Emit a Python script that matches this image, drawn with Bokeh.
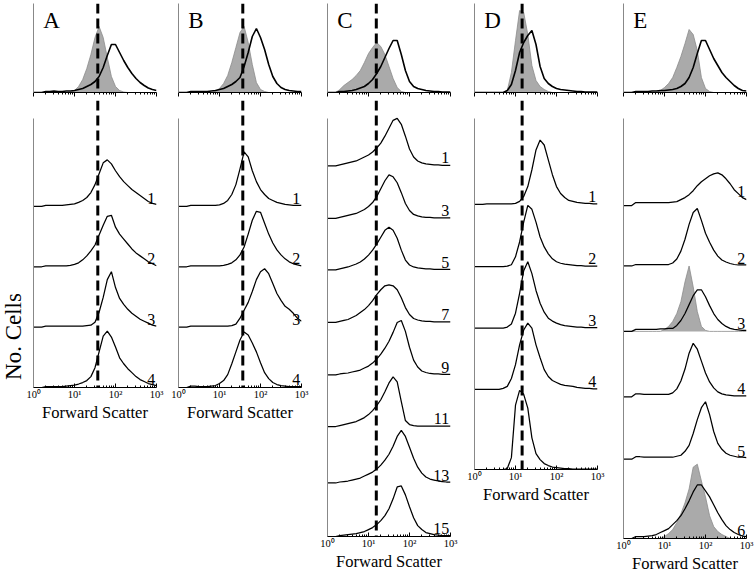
import math
from bokeh.plotting import figure
from bokeh.layouts import row, column
from bokeh.models import Range1d, FixedTicker, Span
from bokeh.embed import file_html
from bokeh.resources import INLINE
from bokeh.core.properties import value

# ---------------- data ----------------
LOG_FSC = [0.0, 0.1, 0.2, 0.3, 0.4, 0.5, 0.6, 0.7, 0.8, 0.9, 1.0, 1.1, 1.2, 1.3, 1.4, 1.5,
           1.6, 1.7, 1.8, 1.9, 2.0, 2.1, 2.2, 2.3, 2.4, 2.5, 2.6, 2.7, 2.8, 2.9, 3.0]
FSC = [10 ** v for v in LOG_FSC]

TICK_LABELS = {1: "10\u2070", 10: "10\u00b9", 100: "10\u00b2", 1000: "10\u00b3"}
X_TITLE = "Forward Scatter"
Y_TITLE = "No. Cells"

# column A
A_TOP_GRAY = [0,0,0,0,0,0,0,0,0,0.5,2,6,13,24,38,55,66,55,35,16,6,2,0.5,0,0,0,0,0,0,0,0]
A_TOP_BLACK = [0,0,0,1,1,1.5,1,1,1.5,1.5,2,3,4,6,8,11,16,25,37,48,48,40,32,25,19,14,10,7,4.5,3,2]
A1 = [0,0,0,1,1,1,1,1,1.5,2,2.5,4,6,9,14,22,33,44,47,43,36,30,25,21,17,14,11,8,5,3,2]
A2 = [0,0,0,1,1,1,1,1,1,1.5,2.5,4,7,11,16,22,32,42,51,52,40,33,28,23,18,14,11,8,5,3,1]
A3 = [0,0,0,1,1,1,1,1,1,1,1,1,1,1.5,2,5,15,30,48,56,40,29,23,18,14,11,8,6,4,2,1]
A4 = [0,0,0,1,1,1,1,1,1.5,2,2.5,3.5,5,7,11,20,36,52,57,51,41,30,24,19,15,11,8,6,4,3,2]
A_LABELS = ["1", "2", "3", "4"]
A_CUTOFF = 37

# column B
B_TOP_GRAY = [0,0,0,0,0,0,0,0,0,1,4,9,17,30,45,60,66,50,28,10,3,1,0,0,0,0,0,0,0,0,0]
B_TOP_BLACK = [0,0,0,1,1,1,1,1,1.5,2,3,4,6,8,11,15,26,40,56,64,55,43,28,16,9,5,3,2,1.5,1,1]
B1 = [0,0,0,1,1,1,1,1,1,1,1.5,3,6,12,22,38,55,50,36,25,17,12,8,6,4,3,2,1.5,1,1,1]
B2 = [0,0,0,1,1,1,1,1,1,1,1,1.5,2.5,4,7,12,20,33,47,56,55,44,33,24,17,12,8,5,3,2,1]
B3 = [0,0,0,1,1,1,1,1,1,1,1,1,1,1.5,3,9,17,25,36,48,56,59,54,44,34,27,21,18,14,9,6]
B4 = [0,0,0,1.5,1.5,1,1,1,1.5,2,4,7,13,24,36,48,56,53,45,36,25,15,9,5,3,2,1.5,1,1,1,1]
B_LABELS = ["1", "2", "3", "4"]
B_CUTOFF = 37

# column C
C_TOP_GRAY = [0,0,0,3,7,10,13,17,22,30,39,45,50,46,38,26,14,5,1,0,0,0,0,0,0,0,0,0,0,0,0]
C_TOP_BLACK = [0,0,0,1,1,1.5,2,3,4.5,6,9,13,19,26,35,44,52,52,38,22,11,6,4,3,2,1.5,1,1,0.5,0.5,0.5]
C1 = [0,0,0,1,2,3,4,5,7,9,11,14,18,23,30,38,46,48,42,30,17,9,5,3,2,1.5,1,1,0.5,0.5,0.5]
C3 = [0,0,0,1,2,3,4,5,7,9,12,16,22,30,38,44,42,36,26,15,8,4,2.5,1.5,1,1,0.5,0.5,0.5,0.5,0.5]
C5 = [0,0,0,1,2,3,4.5,6,8,11,15,20,26,33,40,43,40,32,20,10,5,3,2,1.5,1,1,0.5,0.5,0.5,0.5,0.5]
C7 = [0,0,0,1,2,3,5,7,10,13,17,22,28,33,37,38,37,33,25,15,8,4,2.5,1.5,1,1,0.5,0.5,0.5,0.5,0.5]
C9 = [0,0,0,1,1.5,2,3,4,5,7,9,12,16,21,27,34,43,53,55,44,28,15,8,4,2.5,1.5,1,1,0.5,0.5,0.5]
C11 = [0,0,0,1,2,3,4,5,7,9,12,16,21,27,35,44,50,45,25,6,2,1,0.5,0.5,0.5,0.5,0.5,0.5,0.5,0.5,0.5]
C13 = [0,0,0,1,1.5,2,3,4,5,7,9,11,14,18,23,29,37,47,53,47,36,25,16,10,6,4,3,2,1.5,1,1]
C15 = [0,0,0,1,1.5,2,2.5,3,4,5,7,9,12,16,21,28,38,50,51,42,30,19,11,7,4,3,2,1.5,1,1,1]
C_LABELS = ["1", "3", "5", "7", "9", "11", "13", "15"]
C_CUTOFF = 15.5

# column D
D_TOP_GRAY = [0,0,0,0,0,0,0,0,2,20,52,82,80,58,27,12,6,3,1,0,0,0,0,0,0,0,0,0,0,0,0]
D_TOP_BLACK = [0,0,0,0,0,0,0,0,2,8,22,40,50,57,62,48,26,14,9,6,4,3,2.5,2,1.5,1,1,0.5,0.5,0.5,0.5]
D1 = [0,0,0,0.5,0.5,0.5,0.5,0.5,0.5,0.5,1,3,8,18,35,55,65,60,45,30,18,11,7,4,3,2,1.5,1,1,0.5,0.5]
D2 = [0,0,0,0,0,0,0,0,0.5,2,10,25,45,62,58,45,30,20,13,8,5,3.5,2.5,2,1.5,1,1,0.5,0.5,0.5,0.5]
D3 = [0,0,0,0,0,0,0,0,1,4,15,35,58,67,55,38,25,16,10,7,5,3.5,2.5,2,1.5,1,1,0.5,0.5,0.5,0.5]
D4 = [0,0,0,0,0,0,0,1,3,11,25,45,60,67,62,45,32,20,13,9,7,5,4,3.5,3,2,1.5,1,1,0.5,0.5]
D5 = [0,0,0,0,0,0,0,0,1,12,65,80,76,62,32,16,10,6,4,2.5,2,1.5,1,1,0.5,0.5,0.5,0.5,0.5,0.5,0.5]
D_LABELS = ["1", "2", "3", "4", ""]
D_CUTOFF = 14.5

# column E
E_TOP_GRAY = [0,0,0,0,0,0,0,0,0,2,5,9,15,25,36,49,63,58,42,15,4,1,0,0,0,0,0,0,0,0,0]
E_TOP_BLACK = [0,0,0,1,1,1,1,1.5,1.5,2,2,2.5,3,4,6,9,15,25,39,52,52,43,34,27,20,15,11,7,4,2,1.5]
E1 = [0,0,0,3,3,3,3,3,3,3,3,3,3.5,4,6,8,11,15,20,24,27,30,32,33,31,27,22,16,12,8,6]
E2 = [0,0,0,1.5,1.5,1.5,1.5,1.5,1.5,1.5,1.5,1.5,3,7,15,27,42,54,58,46,33,24,16,10,6,4,2.5,1.5,1,1,1]
E3 = [0,0,0,2,2,2,2,2,2,2.5,2.5,3,3,6,11,18,27,36,42,42,35,26,18,12,8,5,3,2,1.5,1,1]
E3_GRAY = [0,0,0,0,0,0,0,0,0,0,2,5,10,18,30,50,66,45,20,5,1,0,0,0,0,0,0,0,0,0,0]
E4 = [0,0,0,3,3,2.5,2.5,2.5,2.5,2.5,2.5,2.5,4,8,16,28,44,54,48,36,24,15,9,5,3,2,1.5,1,1,1,1]
E5 = [0,0,0,2.5,2.5,2,2,2,2,2,2,2,2,3,4,8,14,26,40,52,58,45,28,16,10,6,4,3,2,2,1.5]
E6 = [0,0,0,2,2,2,2.5,3,4,6,8,10,14,18,23,30,38,47,54,54,48,42,34,26,19,13,9,6,4,2.5,2]
E6_GRAY = [0,0,0,0,0,0,0,0,0,0,2,5,9,16,25,36,50,72,75,58,42,23,12,7,4,2,0,0,0,0,0]
E_LABELS = ["1", "2", "3", "4", "5", "6"]

# ---------------- layout (pixel units of the reference) ----------------
SY_B = 0.99
FRAME_W = 123
TOP_REF = 89            # top panel height
BOTTOM_FRAME_TOP = 100  # y where lower frames start
AXIS_LINE_TOP = 118     # y where lower y-axis lines start

A_BASES = [207, 268, 329, 390]
B_BASES = [207, 268, 329, 390]
C_BASES = [166, 219, 271, 324, 377, 429, 486, 540]
D_BASES = [205, 268, 330, 392, 473]
E_BASES = [206, 267, 333, 399, 462, 542]
# how far each row number sits above its baseline
A_LIFT = [8, 8, 8, 8]
B_LIFT = [8, 8, 8, 8]
C_LIFT = [8, 8, 8, 8, 8, 8, 8, 8]
D_LIFT = [8, 8, 8, 8, 8]
E_LIFT = [14, 8, 8, 8, 8, 8]

SERIF = "Liberation Serif"
MINOR = [m * 10 ** k for k in range(3) for m in range(2, 10)]


def clean(p):
    p.xgrid.visible = False
    p.ygrid.visible = False
    p.outline_line_color = None
    p.background_fill_color = "white"
    p.border_fill_color = "white"


def plain_yaxis(p, bounds=None):
    ay = p.yaxis[0]
    ay.ticker = FixedTicker(ticks=[], minor_ticks=[])
    ay.major_tick_line_color = None
    ay.minor_tick_line_color = None
    ay.axis_line_color = "#888888"
    if bounds is not None:
        ay.bounds = bounds


def make_top(letter, gray, black, cutoff, left, right):
    p = figure(x_axis_type="log", x_range=Range1d(1, 1000), y_range=Range1d(0, TOP_REF),
               frame_width=FRAME_W, frame_height=TOP_REF,
               min_border_left=left, min_border_right=right, min_border_top=3,
               min_border_bottom=8, output_backend="svg", toolbar_location=None)
    clean(p)
    ax = p.xaxis[0]
    ax.ticker = FixedTicker(ticks=[1, 10, 100, 1000], minor_ticks=MINOR)
    ax.major_label_text_font_size = "1px"
    ax.major_label_text_alpha = 0
    ax.major_label_standoff = 0
    ax.major_tick_in = 0
    ax.major_tick_out = 4
    ax.minor_tick_in = 0
    ax.minor_tick_out = 2
    ax.axis_line_color = "black"
    plain_yaxis(p)
    p.varea(x=FSC, y1=[0] * len(FSC), y2=gray, fill_color="#aaaaaa")
    p.line(FSC, gray, line_color="#8c8c8c", line_width=0.8)
    p.line(FSC, black, line_color="black", line_width=1.6)
    if cutoff is not None:
        p.add_layout(Span(location=cutoff, dimension="height", line_color="black",
                          line_width=3, line_dash="10 5"))
    p.text(x=[10 ** 0.24], y=[92 - 20], text=[letter], text_font=value(SERIF),
           text_font_size="23px", text_align="left", text_baseline="alphabetic",
           text_color="black")
    return p


def make_bottom(curves, bases, labels, lifts, cutoff, left, right, grays=None):
    axis_y = bases[-1]
    top = axis_y - BOTTOM_FRAME_TOP
    p = figure(x_axis_type="log", x_range=Range1d(1, 1000), y_range=Range1d(0, top),
               frame_width=FRAME_W, frame_height=round(top * SY_B),
               min_border_left=left, min_border_right=right, min_border_top=0,
               min_border_bottom=0, output_backend="svg", toolbar_location=None)
    clean(p)
    ax = p.xaxis[0]
    ax.ticker = FixedTicker(ticks=[1, 10, 100, 1000], minor_ticks=MINOR)
    ax.major_label_overrides = TICK_LABELS
    ax.major_label_text_font = SERIF
    ax.major_label_text_font_size = "10.5px"
    ax.major_label_text_color = "black"
    ax.major_label_standoff = 1
    ax.major_tick_in = 4
    ax.major_tick_out = 0
    ax.minor_tick_in = 2
    ax.minor_tick_out = 0
    ax.axis_line_color = "black"
    ax.axis_label = X_TITLE
    ax.axis_label_text_font = SERIF
    ax.axis_label_text_font_size = "16.5px"
    ax.axis_label_text_font_style = "normal"
    ax.axis_label_text_color = "black"
    ax.axis_label_standoff = 0
    plain_yaxis(p, bounds=(0, axis_y - AXIS_LINE_TOP))
    for i, (curve, base) in enumerate(zip(curves, bases)):
        off = axis_y - base
        if grays is not None and grays[i] is not None:
            g = [off + v for v in grays[i]]
            p.varea(x=FSC, y1=[off] * len(FSC), y2=g, fill_color="#aaaaaa")
            p.line(FSC, g, line_color="#8c8c8c", line_width=0.8)
        p.line(FSC, [off + v for v in curve], line_color="black", line_width=1.25)
    lab_y = [axis_y - b + l for b, t, l in zip(bases, labels, lifts) if t]
    lab_t = [t for t in labels if t]
    p.text(x=[10 ** 2.97] * len(lab_t), y=lab_y, text=lab_t, text_font=value(SERIF),
           text_font_size="16px", text_align="right", text_baseline="alphabetic",
           text_color="black")
    if cutoff is not None:
        p.add_layout(Span(location=cutoff, dimension="height", line_color="black",
                          line_width=3, line_dash="10 5"))
    return p


# narrow strip holding the rotated y title
LABEL_W = 26
LABEL_H = 420
ylab = figure(x_range=Range1d(0, LABEL_W), y_range=Range1d(0, LABEL_H),
              frame_width=LABEL_W, frame_height=LABEL_H,
              min_border_left=0, min_border_right=0, min_border_top=0, min_border_bottom=0,
              output_backend="svg", toolbar_location=None)
clean(ylab)
ylab.axis.visible = False
ylab.text(x=[13], y=[LABEL_H - 336], text=[Y_TITLE], angle=math.pi / 2, text_font=value(SERIF),
          text_font_size="23px", text_align="center", text_baseline="middle",
          text_color="black")

topA = make_top("A", A_TOP_GRAY, A_TOP_BLACK, A_CUTOFF, 7, 10)
botA = make_bottom([A1, A2, A3, A4], A_BASES, A_LABELS, A_LIFT, A_CUTOFF, 7, 10)
topB = make_top("B", B_TOP_GRAY, B_TOP_BLACK, B_CUTOFF, 12, 13)
botB = make_bottom([B1, B2, B3, B4], B_BASES, B_LABELS, B_LIFT, B_CUTOFF, 12, 13)
topC = make_top("C", C_TOP_GRAY, C_TOP_BLACK, C_CUTOFF, 13, 11)
botC = make_bottom([C1, C3, C5, C7, C9, C11, C13, C15], C_BASES, C_LABELS, C_LIFT,
                   C_CUTOFF, 13, 11)
topD = make_top("D", D_TOP_GRAY, D_TOP_BLACK, D_CUTOFF, 13, 13)
botD = make_bottom([D1, D2, D3, D4, D5], D_BASES, D_LABELS, D_LIFT, D_CUTOFF, 13, 13)
topE = make_top("E", E_TOP_GRAY, E_TOP_BLACK, None, 13, 8)
botE = make_bottom([E1, E2, E3, E4, E5, E6], E_BASES, E_LABELS, E_LIFT, None, 13, 8,
                   grays=[None, None, E3_GRAY, None, None, E6_GRAY])

layout = row(ylab,
             column(topA, botA, spacing=0), column(topB, botB, spacing=0),
             column(topC, botC, spacing=0), column(topD, botD, spacing=0),
             column(topE, botE, spacing=0), spacing=0)

open("out.html", "w").write(file_html(layout, INLINE))
